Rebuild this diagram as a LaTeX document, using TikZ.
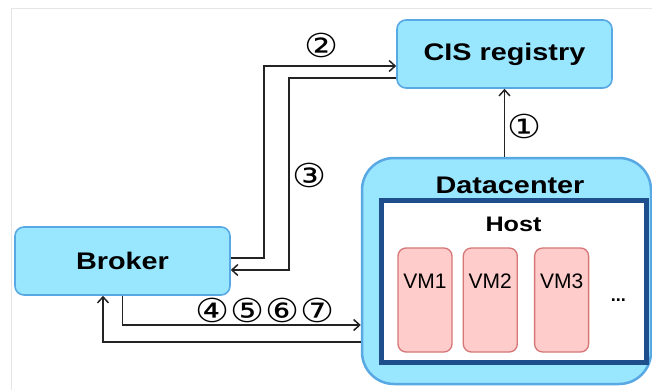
\documentclass[tikz,border=0pt]{standalone}
\usepackage{fontspec}
\usetikzlibrary{arrows.meta,positioning}
\newfontfamily\boxfont[FakeStretch=1.2]{Liberation Sans}
\newfontfamily\vmfont{Liberation Sans}
\newfontfamily\numfont[FakeStretch=1.15]{DejaVu Sans}
\definecolor{boxcyan}{RGB}{153,230,255}
\definecolor{boxedge}{RGB}{88,168,228}
\definecolor{hostedge}{RGB}{30,78,140}
\definecolor{vmfill}{RGB}{255,204,204}
\definecolor{vmedge}{RGB}{214,118,118}
\definecolor{flowline}{RGB}{35,35,35}
\tikzset{>={Straight Barb[length=6pt,width=11pt]}}
\tikzset{flow/.style={->, line width=1.5pt, color=flowline}}
\tikzset{entity/.style={draw=boxedge, fill=boxcyan, line width=1.6pt, rounded corners=9pt, minimum width=215pt, minimum height=68pt, inner sep=0, font=\boxfont\bfseries\fontsize{24}{28}\selectfont}}
\tikzset{dcbox/.style={draw=boxedge, fill=boxcyan, line width=2.5pt, rounded corners=32pt, minimum width=289pt, minimum height=226pt, inner sep=0}}
\tikzset{hostbox/.style={draw=hostedge, fill=white, line width=5pt, minimum width=265pt, minimum height=162pt, inner sep=0}}
\tikzset{vmbox/.style={draw=vmedge, fill=vmfill, line width=1.3pt, rounded corners=8pt, minimum width=54pt, minimum height=104pt, inner sep=0}}
\tikzset{title-text/.style={font=\boxfont\bfseries\fontsize{24}{28}\selectfont, anchor=center}}
\tikzset{host-text/.style={font=\boxfont\bfseries\fontsize{21}{24}\selectfont, anchor=center}}
\tikzset{vm-text/.style={font=\vmfont\fontsize{21}{24}\selectfont, anchor=center, yshift=-34pt}}
\tikzset{num/.style={font=\numfont\fontsize{33}{36}\selectfont, inner sep=0}}

\begin{document}
\begin{tikzpicture}[x=1pt, y=-1pt]
    \useasboundingbox (0,0) rectangle (652,390);
    \clip (0,0) rectangle (652,390);
    \draw[black!10] (11,390) -- (11,8) -- (652,8);

    \node[entity] (cis) at (504.5,54) {CIS registry};
    \node[entity] (broker) at (122.5,261) {Broker};

    \node[dcbox, label={[title-text, xshift=3.5pt, yshift=-29pt]north:Datacenter}] (dc) at (506.5,271) {};
    \node[hostbox, label={[host-text, yshift=-27pt]north:Host}] (host) at (513.5,281) {};

    \node[vmbox, label={[vm-text]north:VM1}] (vm1) at (425,300) {};
    \node[vmbox, right=10pt of vm1, label={[vm-text]north:VM2}] (vm2) {};
    \node[vmbox, right=16pt of vm2, label={[vm-text]north:VM3}] (vm3) {};
    \node[right=18pt of vm3, font=\vmfont\bfseries\fontsize{18}{20}\selectfont] (more) {...};

    \draw[flow] (cis.south |- dc.north) -- (cis.south);
    \draw[flow] ([yshift=3pt]broker.east) -- ++(33,0) |- ([yshift=-12pt]cis.west);
    \draw[flow] ([yshift=-24pt]cis.west) -- ++(-107,0) |- ([yshift=-9pt]broker.east);
    \draw[flow] (broker.south) |- ([yshift=-54pt]dc.west);
    \draw[flow] ([yshift=-71pt]dc.west) -| ([xshift=-19.5pt]broker.south);

    \node[num] (n1) at (525,126) {①};
    \node[num] (n2) at (322,45) {②};
    \node[num] (n3) at (310,175) {③};
    \node[num] (n4) at (213,310) {④};
    \node[num] (n5) at (248,310) {⑤};
    \node[num] (n6) at (283,310) {⑥};
    \node[num] (n7) at (318,310) {⑦};
\end{tikzpicture}
\end{document}
